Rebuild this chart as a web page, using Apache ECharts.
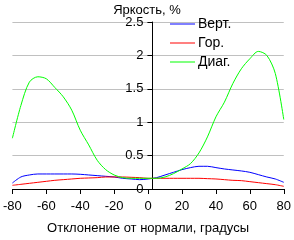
<!DOCTYPE html>
<html><head><meta charset="utf-8">
<script src="https://cdn.jsdelivr.net/npm/echarts@6/dist/echarts.min.js"></script>
<style>html,body{margin:0;padding:0;background:#fff}#c{width:294px;height:240px}</style>
</head><body><div id="c"></div>
<script>
const angles = [-80,-75,-70,-65,-60,-55,-50,-45,-40,-35,-30,-25,-20,-15,-10,-5,0,5,10,15,20,25,30,35,40,45,50,55,60,65,70,75,80];
const vert = [0.09,0.18,0.21,0.225,0.225,0.225,0.225,0.225,0.22,0.21,0.2,0.19,0.18,0.16,0.15,0.14,0.15,0.17,0.21,0.25,0.29,0.32,0.34,0.34,0.32,0.3,0.285,0.27,0.25,0.215,0.18,0.15,0.1];
const hor = [0.055,0.07,0.085,0.1,0.115,0.13,0.14,0.15,0.16,0.165,0.17,0.18,0.18,0.18,0.175,0.17,0.16,0.16,0.16,0.16,0.16,0.16,0.16,0.155,0.15,0.14,0.13,0.125,0.11,0.095,0.08,0.065,0.04];
const diag = [0.76,1.25,1.6,1.68,1.65,1.52,1.38,1.18,0.88,0.66,0.43,0.29,0.21,0.17,0.16,0.16,0.16,0.16,0.18,0.23,0.3,0.38,0.54,0.78,1.08,1.3,1.58,1.8,1.95,2.06,2.0,1.73,1.04];
const seriesNames = ['Верт.','Гор.','Диаг.'];
const colors = ['#0000ff','#ff0000','#00ff00'];
const titleText = 'Яркость, %';
const xName = 'Отклонение от нормали, градусы';

const font = 'Arial, "Liberation Sans", sans-serif';
const pairs = arr => angles.map((a,i)=>[a, arr[i]]);
const chart = echarts.init(document.getElementById('c'), null, {renderer:'canvas'});
chart.setOption({
  animation:false,
  backgroundColor:'#fff',
  title:{text:titleText,left:'center',top:-1,textStyle:{fontFamily:font,fontSize:13,fontWeight:'normal',color:'#000'}},
  legend:{orient:'vertical',left:165,top:12,itemWidth:25,itemHeight:1,itemGap:5,icon:'rect',
    textStyle:{fontFamily:font,fontSize:14,color:'#000',padding:[0,0,0,-2]},
    data:seriesNames},
  grid:{left:9,right:5,top:22,bottom:41,containLabel:false},
  xAxis:{type:'value',min:-80,max:80,interval:20,
    name:xName,nameLocation:'middle',nameGap:33,
    nameTextStyle:{fontFamily:font,fontSize:13,color:'#000'},
    axisLine:{onZero:false,lineStyle:{color:'#000',width:1}},
    axisTick:{length:5,lineStyle:{color:'#000'}},
    axisLabel:{fontFamily:font,fontSize:13,color:'#000',margin:11},
    splitLine:{show:false}},
  yAxis:{type:'value',min:0,max:2.5,interval:0.5,position:'left',offset:-140,
    axisLine:{show:true,onZero:false,lineStyle:{color:'#000',width:1}},
    axisTick:{show:true,length:5,lineStyle:{color:'#000'}},
    axisLabel:{fontFamily:font,fontSize:13,color:'#000',margin:9},
    splitLine:{show:true,lineStyle:{color:'#c0c0c0',width:1}}},
  series:[vert,hor,diag].map((d,i)=>({
    name:seriesNames[i],type:'line',data:pairs(d),showSymbol:false,smooth:0.3,
    lineStyle:{color:colors[i],width:1},itemStyle:{color:colors[i]}
  }))
});
</script></body></html>
